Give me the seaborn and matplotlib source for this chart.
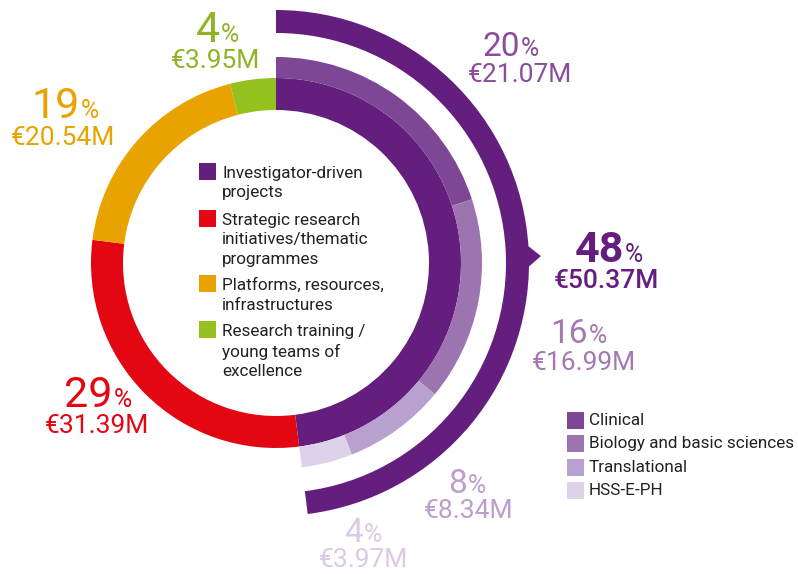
import matplotlib
matplotlib.use("Agg")
import matplotlib.pyplot as plt
from matplotlib.patches import Rectangle, Polygon
import numpy as np
import seaborn as sns

# main funding categories (share of total, %)
categories = ["Investigator-driven\nprojects",
              "Strategic research\ninitiatives/thematic\nprogrammes",
              "Platforms, resources,\ninfrastructures",
              "Research training /\nyoung teams of\nexcellence"]
shares = [48, 29, 19, 4]
amounts = ["€50.37M", "€31.39M", "€20.54M", "€3.95M"]

# breakdown of investigator-driven projects
sub_categories = ["Clinical", "Biology and basic sciences", "Translational", "HSS-E-PH"]
sub_shares = [20, 16, 8, 4]
sub_amounts = ["€21.07M", "€16.99M", "€8.34M", "€3.97M"]

sns.set_style("white")
plt.rcParams["font.family"] = ["Roboto", "DejaVu Sans"]

main_colors = sns.color_palette(["#641e7d", "#e30613", "#e8a300", "#95c11f"])
sub_colors = sns.color_palette(["#7d4795", "#9c74af", "#b9a1cf", "#ddd2e9"])
main_text = ["#651d7e", "#e30613", "#e8a300", "#8fb526"]
sub_text = ["#8b4c9c", "#a479b3", "#bc9dcc", "#dcc9e3"]

W, H = 798, 574
fig = plt.figure(figsize=(W / 100, H / 100), dpi=100)
ax = fig.add_axes([0, 0, 1, 1])
cx, cy = 276, H - 263

# main ring
ax.pie(shares, colors=main_colors, radius=185, center=(cx, cy),
       startangle=90, counterclock=False,
       wedgeprops=dict(width=32, linewidth=0))

# sub ring around the investigator-driven slice
rest = 100 - sum(sub_shares)
ax.pie(sub_shares + [rest], colors=list(sub_colors) + ["none"], radius=206,
       center=(cx, cy), startangle=90, counterclock=False,
       wedgeprops=dict(width=21, linewidth=0))

# outer highlight arc with arrow
ax.pie([shares[0], 100 - shares[0]], colors=[main_colors[0], "none"], radius=253,
       center=(cx, cy), startangle=90, counterclock=False,
       wedgeprops=dict(width=23, linewidth=0))
th = np.deg2rad(1.5)
dth = np.deg2rad(2.7)
tri = [(cx + 251 * np.cos(th + dth), cy + 251 * np.sin(th + dth)),
       (cx + 265 * np.cos(th), cy + 265 * np.sin(th)),
       (cx + 251 * np.cos(th - dth), cy + 251 * np.sin(th - dth))]
ax.add_patch(Polygon(tri, closed=True, color=main_colors[0], lw=0))

# value labels: (x of split between number and %, number baseline, euro centre x, euro baseline)
main_pos = [(624, 262, 606, 288), (113, 407, 97, 433), (80, 118, 63, 145), (220, 42, 215, 68)]
sub_pos = [(520, 56, 520, 82), (588, 343, 584, 370), (467, 493, 469, 518), (363, 542, 364, 567)]


def value_label(pos, pct, amount, color, size, weight="normal", ew="normal"):
    xs, yb, xe, ye = pos
    ax.text(xs, H - yb, str(pct), ha="right", va="baseline", fontsize=size,
            color=color, weight=weight)
    ax.text(xs + 1, H - yb, "%", ha="left", va="baseline", fontsize=18, color=color)
    ax.text(xe, H - ye, amount, ha="center", va="baseline", fontsize=19,
            color=color, weight=ew)


for i in range(len(shares)):
    value_label(main_pos[i], shares[i], amounts[i], main_text[i], 31,
                weight="bold" if i == 0 else "normal",
                ew="medium" if i == 0 else "normal")
for i in range(len(sub_shares)):
    value_label(sub_pos[i], sub_shares[i], sub_amounts[i], sub_text[i], 24)

# legend in the centre
leg_tops = [163, 210, 275, 321]
for i, lab in enumerate(categories):
    ax.add_patch(Rectangle((199, H - leg_tops[i] - 17), 17, 17, color=main_colors[i], lw=0))
    ax.text(222, H - leg_tops[i] - 3, lab, ha="left", va="top", fontsize=12.3,
            color="#222222", linespacing=1.36)

# legend for the breakdown
for i, lab in enumerate(sub_categories):
    top = 412 + 23.3 * i
    ax.add_patch(Rectangle((567, H - top - 17), 17, 17, color=sub_colors[i], lw=0))
    ax.text(589, H - top - 8.5, lab, ha="left", va="center", fontsize=12.3, color="#222222")

ax.set_xlim(0, W)
ax.set_ylim(0, H)
ax.set_aspect("equal")
ax.axis("off")
fig.savefig("out.png", dpi=100)
